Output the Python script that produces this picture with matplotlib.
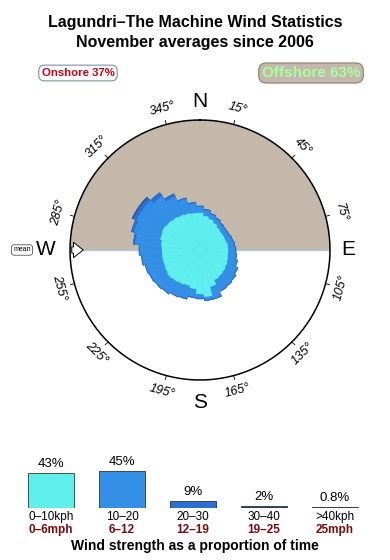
import matplotlib
matplotlib.use("Agg")
import matplotlib.pyplot as plt
import numpy as np

plt.rcParams['font.family'] = ['Liberation Sans', 'DejaVu Sans']

# wind rose: direction (deg from N, wind coming from) and cumulative radius per speed band
directions = np.arange(0, 360, 10)
r_0_10 = [37, 34, 32, 30, 28, 27, 27, 27, 28, 28, 28, 29, 30, 31, 32, 33, 38, 47,
          44, 39, 37, 38, 39, 40, 39, 38, 38, 38, 39, 41, 42, 41, 40, 39, 38, 37]
r_10_20 = [43, 40, 37, 35, 33, 32, 32, 33, 34, 35, 36, 38, 41, 43, 44, 45, 50, 50,
           48, 47, 50, 51, 53, 54, 55, 56, 58, 60, 65, 68, 70, 70, 66, 59, 53, 47]
r_20_30 = [44, 41, 38, 36, 34, 33, 33, 34, 35, 36, 37, 39, 42, 44, 45, 46, 51, 51,
           49, 48, 51, 52, 54, 55, 56, 57, 59, 61, 67, 71, 74, 74, 70, 62, 54, 48]
r_30_40 = [44, 41, 38, 36, 34, 33, 33, 34, 35, 36, 37, 39, 42, 44, 45, 46, 51, 51,
           49, 48, 51, 52, 54, 55, 56, 57, 59, 61, 67, 71, 75, 75, 70, 62, 54, 48]
r_max = 130
mean_dir = 270

tick_angles = [15, 45, 75, 105, 135, 165, 195, 225, 255, 285, 315, 345]

# speed summary
speed_pct = [43, 45, 9, 2, 0.8]
speed_pct_labels = ['43%', '45%', '9%', '2%', '0.8%']
kph_labels = ['0\u201310kph', '10\u201320', '20\u201330', '30\u201340', '>40kph']
mph_labels = ['0\u20136mph', '6\u201312', '12\u201319', '19\u201325', '25mph']
band_colors = ['#5ff0ee', '#348fe6', '#2a6fd6', '#26406e', '#111111']

onshore_pct = 37
offshore_pct = 63

W, H = 390, 560
fig = plt.figure(figsize=(W / 100, H / 100), dpi=100)

fig.text(195 / W, 1 - 22 / H, 'Lagundri\u2013The Machine Wind Statistics',
         ha='center', va='center', fontsize=11.5, fontweight='bold')
fig.text(195 / W, 1 - 43 / H, 'November averages since 2006',
         ha='center', va='center', fontsize=11.5, fontweight='bold')

fig.text(78 / W, 1 - 73 / H, f'Onshore {onshore_pct}%', ha='center', va='center',
         fontsize=8.2, fontweight='bold', color='#cc0010',
         bbox=dict(boxstyle='round,pad=0.25,rounding_size=0.5', fc='white', ec='#7f8fa8', lw=0.8))
fig.text(311 / W, 1 - 73 / H, f'Offshore {offshore_pct}%', ha='center', va='center',
         fontsize=11, fontweight='bold', color='#a8ffa0',
         bbox=dict(boxstyle='round,pad=0.2,rounding_size=0.5', fc='#c4b8ab', ec='#8a8078', lw=0.8))

# rose
cx, cy = 200, 250
ax = fig.add_axes([(cx - r_max) / W, (H - cy - r_max) / H, 2 * r_max / W, 2 * r_max / H],
                  projection='polar')
ax.set_theta_zero_location('N')
ax.set_theta_direction(-1)
ax.set_ylim(0, r_max)
ax.grid(False)
ax.set_xticks([])
ax.set_yticks([])
ax.spines['polar'].set_visible(False)

half = np.linspace(-np.pi / 2, np.pi / 2, 200)
ax.fill(np.concatenate([half, [0]]), np.concatenate([np.full(200, r_max), [0]]),
        color='#c4b8ab', lw=0, zorder=1)
ax.plot([np.pi / 2, 3 * np.pi / 2], [r_max, r_max], color='#a9cbe6', lw=1, zorder=2)
full = np.linspace(0, 2 * np.pi, 400)
ax.plot(full, np.full(400, r_max), color='black', lw=1.1, zorder=6, clip_on=False)

theta = np.deg2rad(directions)
wd = np.deg2rad(10)
for radii, col in zip([r_30_40, r_20_30, r_10_20, r_0_10], band_colors[3::-1]):
    ax.bar(theta, radii, width=wd, bottom=0, color=col, edgecolor=col, lw=0.3, zorder=3)

for a in tick_angles:
    t = np.deg2rad(a)
    ax.plot([t, t], [r_max, r_max + 4], color='black', lw=0.6, clip_on=False, zorder=6)
    rot = -a if (a < 90 or a > 270) else 180 - a
    ax.text(t, r_max + 16, f'{a}\u00b0', ha='center', va='center', rotation=rot,
            rotation_mode='anchor', fontsize=9, style='italic', clip_on=False)

for lab, a, rr in [('N', 0, 148), ('E', 90, 148), ('S', 180, 153), ('W', 270, 154)]:
    ax.text(np.deg2rad(a), rr, lab, ha='center', va='center', fontsize=15, clip_on=False)

m = np.deg2rad(mean_dir)
ax.annotate('', xy=(m, r_max - 16), xytext=(m, r_max + 1),
            arrowprops=dict(arrowstyle='simple,head_width=1.1,head_length=0.7,tail_width=0.45',
                            fc='white', ec='black', lw=0.7), zorder=7, annotation_clip=False)
ax.text(m, r_max + 48, 'mean', ha='center', va='center', fontsize=5, clip_on=False,
        bbox=dict(boxstyle='round,pad=0.25,rounding_size=0.4', fc='white', ec='#555555', lw=0.6))

# speed band bars
step = 71
bx = fig.add_axes([0, 52 / H, 1, 41 / H])
pos = np.arange(len(speed_pct))
bx.bar(pos, speed_pct, width=46 / step, color=band_colors, edgecolor='#333333', lw=0.6)
bx.set_xlim(-51 / step, (W - 51) / step)
bx.set_ylim(0, 50)
bx.axis('off')
for i, h in enumerate(speed_pct):
    bx.annotate(speed_pct_labels[i], (i, h), xytext=(0, 6.5), textcoords='offset points',
                ha='center', va='center', fontsize=9.5)
    bx.annotate(kph_labels[i], (i, 0), xytext=(0, -6.5), textcoords='offset points',
                ha='center', va='center', fontsize=8.5)
    bx.annotate(mph_labels[i], (i, 0), xytext=(0, -16), textcoords='offset points',
                ha='center', va='center', fontsize=8.5, fontweight='bold', color='#7a0a0a')
fig.text(195 / W, 1 - 546 / H, 'Wind strength as a proportion of time',
         ha='center', va='center', fontsize=10, fontweight='bold')

fig.savefig('out.png', dpi=100)
